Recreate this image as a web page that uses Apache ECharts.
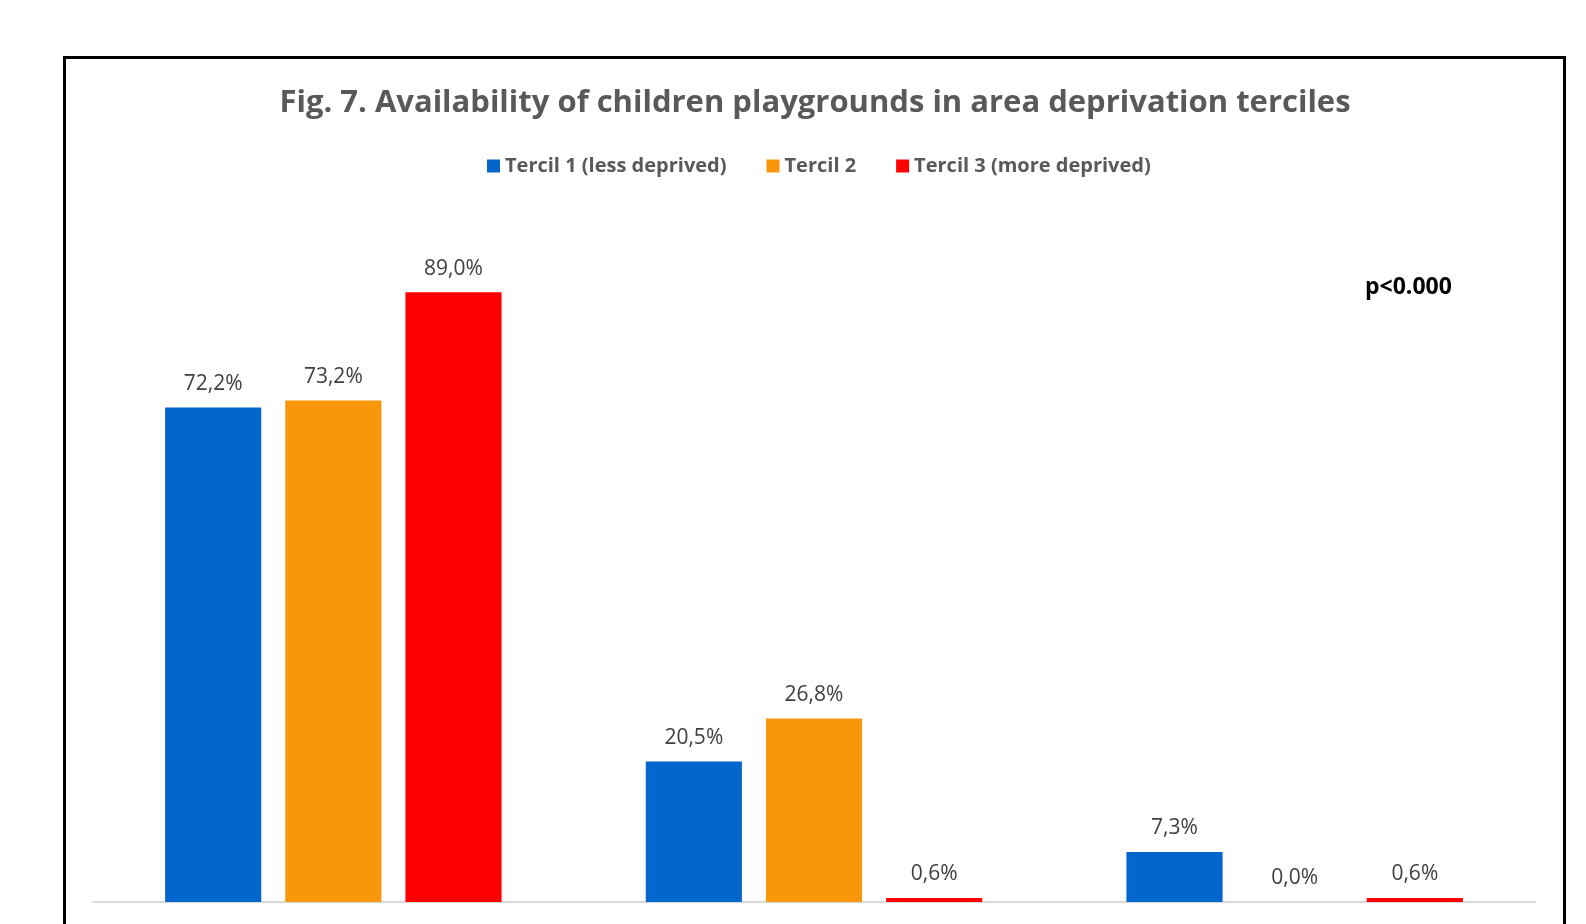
<!DOCTYPE html>
<html>
<head>
<meta charset="utf-8">
<script src="https://cdn.jsdelivr.net/npm/echarts@6/dist/echarts.min.js"></script>
<style>
html,body{margin:0;padding:0;background:#fff;}
#chart{width:1586px;height:924px;}
</style>
</head>
<body>
<div id="chart"></div>
<script>
const categories = ['Yes', 'No', 'Unknown'];
const seriesNames = ['Tercil 1 (less deprived)', 'Tercil 2', 'Tercil 3 (more deprived)'];
const tercil1 = [72.2, 20.5, 7.3];
const tercil2 = [73.2, 26.8, 0.0];
const tercil3 = [89.0, 0.6, 0.6];
const colors = ['#0366cc', '#f9960b', '#ff0000'];
const titleText = 'Fig. 7. Availability of children playgrounds in area deprivation terciles';

const chart = echarts.init(document.getElementById('chart'));
const FONT = '"Open Sans", sans-serif';
function mk(name, data, color) {
  return {
    name: name, type: 'bar', data: data,
    barWidth: '20%', barGap: '25%',
    itemStyle: { color: color },
    label: {
      show: true, position: 'top', distance: 13,
      fontFamily: FONT, fontSize: 21, color: '#404040',
      formatter: p => p.value.toFixed(1).replace('.', ',') + '%'
    }
  };
}
chart.setOption({
  animation: false,
  legend: {
    top: 151, left: 482, itemWidth: 13, itemHeight: 13, itemGap: 40,
    icon: 'rect',
    textStyle: { fontFamily: FONT, fontSize: 20, fontWeight: 'bold', color: '#595959' }
  },
  graphic: [
    { type: 'rect', shape: { x: 64.5, y: 57.5, width: 1500, height: 900 },
      style: { fill: 'none', stroke: '#000', lineWidth: 3 }, silent: true },
    { type: 'text', x: 815, y: 103,
      style: { text: titleText, font: 'bold 31px "Open Sans", sans-serif', fill: '#595959',
               textAlign: 'center', textVerticalAlign: 'middle' } },
    { type: 'text', left: 1365, top: 276,
      style: { text: 'p<0.000', font: 'bold 23px "Open Sans", sans-serif', fill: '#000' } }
  ],
  grid: { left: 93, right: 51, top: 217, bottom: 22 },
  xAxis: {
    type: 'category', data: categories,
    axisLine: { lineStyle: { color: '#d9d9d9', width: 2 } },
    axisTick: { show: false }, axisLabel: { show: false }
  },
  yAxis: {
    type: 'value', min: 0, max: 100, interval: 10,
    show: false, splitLine: { show: false }
  },
  series: [
    mk(seriesNames[0], tercil1, colors[0]),
    mk(seriesNames[1], tercil2, colors[1]),
    mk(seriesNames[2], tercil3, colors[2])
  ]
});
</script>
</body>
</html>
